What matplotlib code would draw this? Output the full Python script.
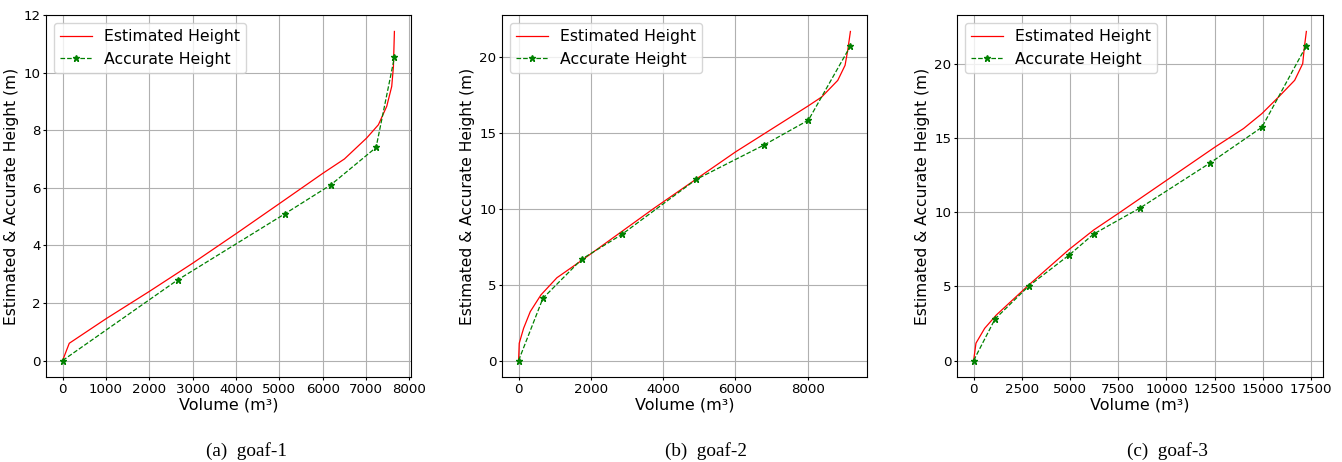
import matplotlib
matplotlib.use("Agg")
import matplotlib.pyplot as plt
from matplotlib.ticker import MultipleLocator

# Panel (a) goaf-1
est1_x = [0, 154, 1000, 2000, 3000, 4015, 5000, 6000, 6500, 7015, 7285, 7477, 7592, 7631, 7654]
est1_y = [0, 0.60, 1.45, 2.40, 3.38, 4.42, 5.45, 6.50, 7.00, 7.73, 8.19, 8.83, 9.52, 10.2, 11.43]
acc1_x = [0, 2654, 5131, 6185, 7231, 7654]
acc1_y = [0, 2.80, 5.10, 6.10, 7.40, 10.53]

# Panel (b) goaf-2
est2_x = [0, 18, 138, 323, 618, 1060, 1751, 3733, 6000, 8000, 8387, 8830, 9032, 9106, 9180]
est2_y = [0, 1.14, 2.12, 3.22, 4.32, 5.45, 6.60, 10.0, 13.73, 16.74, 17.35, 18.44, 19.43, 20.42, 21.66]
acc2_x = [0, 673, 1751, 2857, 4912, 6793, 8018, 9180]
acc2_y = [0, 4.10, 6.68, 8.30, 11.92, 14.19, 15.82, 20.70]

# Panel (c) goaf-3
est3_x = [0, 121, 572, 1178, 2859, 4956, 6221, 7503, 10016, 12528, 14001, 14954, 15821, 16652, 17068, 17155, 17258]
est3_y = [0, 1.17, 2.17, 3.07, 5.09, 7.49, 8.79, 9.91, 12.15, 14.39, 15.63, 16.64, 17.76, 18.88, 20.0, 21.12, 22.17]
acc3_x = [0, 1109, 2859, 4956, 6221, 8646, 12251, 14954, 17258]
acc3_y = [0, 2.80, 5.02, 7.11, 8.52, 10.29, 13.30, 15.72, 21.21]

captions = ["(a)  goaf-1", "(b)  goaf-2", "(c)  goaf-3"]
xlabel = "Volume (m³)"
ylabel = "Estimated & Accurate Height (m)"
x_steps = [1000, 2000, 2500]

panels = [(est1_x, est1_y, acc1_x, acc1_y),
          (est2_x, est2_y, acc2_x, acc2_y),
          (est3_x, est3_y, acc3_x, acc3_y)]

fig = plt.figure(figsize=(13.42, 4.62), dpi=100)
lefts = [46, 502, 957]
widths = [365, 365, 366]
top, bottom = 15, 377
H = 462
W = 1342
caption_x = [246, 706, 1167]

for i, (ex, ey, ax_, ay) in enumerate(panels):
    ax = fig.add_axes([lefts[i] / W, 1 - bottom / H, widths[i] / W, (bottom - top) / H])
    ax.plot(ex, ey, color="red", lw=0.9, label="Estimated Height")
    ax.plot(ax_, ay, color="green", ls="--", lw=0.9, marker="*", markersize=4.5,
            label="Accurate Height")
    ax.xaxis.set_major_locator(MultipleLocator(x_steps[i]))
    ax.grid(True, color="#b0b0b0", lw=0.8)
    ax.set_axisbelow(True)
    ax.tick_params(labelsize=9.6, length=2.3, pad=1.8)
    ax.set_xlabel(xlabel, fontsize=11.5, labelpad=1.5)
    ax.set_ylabel(ylabel, fontsize=11.2, labelpad=3)
    ax.legend(loc="upper left", fontsize=11.3, handlelength=2.0, handletextpad=0.8)
    fig.text(caption_x[i] / W, 1 - 451 / H, captions[i], ha="center", va="center",
             fontsize=13.8, family="Liberation Serif")

fig.savefig("out.png", dpi=100)
